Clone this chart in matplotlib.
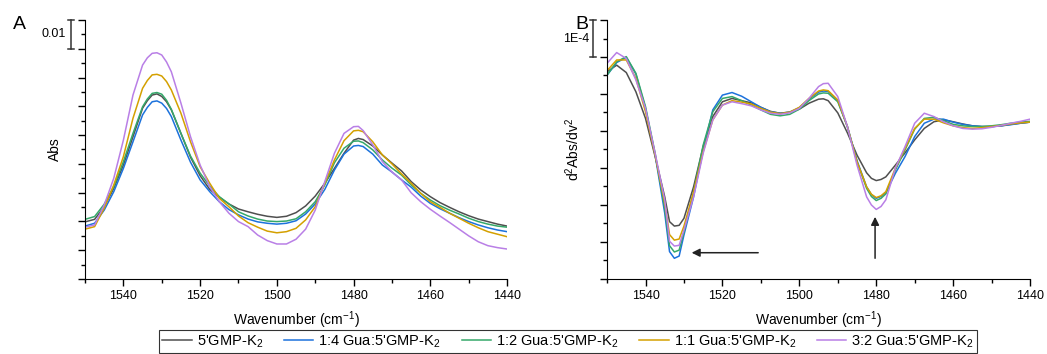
import numpy as np
import matplotlib
matplotlib.use("Agg")
import matplotlib.pyplot as plt
from matplotlib.transforms import blended_transform_factory
from matplotlib.lines import Line2D

plt.rcParams['font.family'] = ['Liberation Sans', 'DejaVu Sans']
plt.rcParams['mathtext.fontset'] = 'custom'
plt.rcParams['mathtext.rm'] = 'Liberation Sans'
plt.rcParams['mathtext.it'] = 'Liberation Sans:italic'

labels = ["5'GMP-K$_2$", "1:4 Gua:5'GMP-K$_2$", "1:2 Gua:5'GMP-K$_2$",
          "1:1 Gua:5'GMP-K$_2$", "3:2 Gua:5'GMP-K$_2$"]
colors = ['#4f4f4f', '#1c72dc', '#35a86a', '#d4a000', '#b97fe6']

# panel A: wavenumbers (cm-1) and absorbance (mAbs, offset baseline)
wn_a = [1550, 1547.5, 1545, 1542.5, 1540, 1537.5, 1535, 1533.75, 1532.5, 1531.25,
        1530, 1528.75, 1527.5, 1525, 1522.5, 1520, 1517.5, 1515, 1512.5, 1510,
        1507.5, 1505, 1502.5, 1500, 1497.5, 1495, 1492.5, 1490, 1487.5, 1485,
        1482.5, 1480, 1478.75, 1477.5, 1475, 1472.5, 1470, 1467.5, 1465, 1462.5,
        1460, 1457.5, 1455, 1452.5, 1450, 1447.5, 1445, 1442.5, 1440]
abs_gmp = [20.4, 21.3, 25.8, 32.4, 40.7, 50.8, 61.0, 63.7, 65.7, 66.1,
           65.2, 63.3, 60.4, 52.0, 43.5, 36.9, 32.0, 29.2, 26.8, 25.0,
           24.0, 23.1, 22.4, 22.0, 22.4, 23.7, 26.1, 29.6, 34.2, 39.5,
           44.9, 49.6, 50.2, 49.8, 47.5, 44.3, 41.4, 38.6, 34.8, 31.8,
           29.4, 27.3, 25.6, 24.0, 22.6, 21.4, 20.5, 19.6, 18.9]
abs_14 = [18.9, 19.9, 24.6, 31.2, 39.5, 49.0, 58.6, 61.3, 63.3, 63.6,
          62.8, 60.9, 58.0, 49.6, 41.7, 35.4, 31.2, 27.6, 24.8, 22.9,
          21.4, 20.4, 19.9, 19.6, 19.9, 20.8, 23.2, 26.8, 32.0, 38.9,
          44.6, 47.5, 47.7, 47.3, 44.6, 40.7, 38.2, 35.4, 32.8, 29.6,
          27.0, 25.1, 23.5, 21.9, 20.5, 19.3, 18.3, 17.5, 16.9]
abs_12 = [21.3, 22.3, 26.7, 33.0, 41.9, 52.0, 61.5, 64.3, 66.3, 66.6,
          66.0, 63.8, 60.6, 52.0, 43.9, 37.8, 33.2, 29.4, 26.8, 24.0,
          22.5, 21.4, 20.7, 20.5, 20.7, 21.5, 24.0, 27.6, 33.6, 41.5,
          46.7, 49.2, 49.3, 48.7, 46.1, 42.5, 39.6, 37.1, 33.6, 30.6,
          28.2, 26.2, 24.6, 23.2, 21.7, 20.5, 19.6, 18.9, 18.5]
abs_11 = [17.8, 18.7, 25.3, 33.6, 43.7, 57.4, 68.1, 70.9, 72.9, 73.1,
          72.5, 70.5, 67.5, 59.2, 49.0, 40.1, 34.2, 28.8, 25.8, 22.5,
          20.1, 18.5, 17.1, 16.5, 16.9, 18.1, 21.1, 25.8, 34.2, 42.5,
          49.4, 52.9, 53.1, 52.6, 49.0, 44.3, 41.1, 37.5, 34.2, 30.6,
          27.6, 25.6, 23.5, 21.7, 19.9, 18.3, 16.9, 16.0, 15.1]
abs_32 = [18.5, 19.3, 26.4, 36.0, 49.6, 65.7, 76.4, 79.0, 80.6, 80.8,
          80.0, 77.5, 74.0, 62.8, 50.8, 40.7, 33.0, 27.6, 23.5, 20.5,
          18.7, 15.7, 13.7, 12.5, 12.5, 14.2, 17.8, 24.6, 34.8, 44.9,
          52.0, 54.4, 54.5, 53.0, 47.9, 41.9, 38.2, 35.4, 30.8, 27.6,
          24.9, 22.5, 20.2, 17.8, 15.4, 13.3, 11.9, 11.2, 10.7]

# panel B: wavenumbers (cm-1) and second derivative (units of 1e-5)
wn_b = [1550, 1547.5, 1545, 1542.5, 1540, 1537.5, 1535, 1533.75, 1532.5, 1531.25,
        1530, 1527.5, 1525, 1522.5, 1520, 1517.5, 1515, 1512.5, 1510, 1507.5,
        1505, 1502.5, 1500, 1497.5, 1495, 1493.75, 1492.5, 1490, 1487.5, 1485,
        1482.5, 1481.25, 1480, 1478.75, 1477.5, 1475, 1472.5, 1470, 1467.5, 1465,
        1462.5, 1460, 1457.5, 1455, 1452.5, 1450, 1447.5, 1445, 1442.5, 1440]
d2_gmp = [16.0, 17.8, 15.8, 10.6, 3.4, -6.9, -17.8, -24.5, -25.7, -25.5,
          -23.6, -15.1, -4.2, 3.9, 7.9, 8.8, 8.2, 7.6, 6.4, 5.3,
          4.8, 5.1, 5.9, 7.5, 8.6, 8.7, 8.2, 4.9, -0.5, -6.5,
          -11.3, -12.8, -13.4, -13.1, -12.4, -9.2, -5.9, -2.4, 0.7, 2.5,
          3.0, 2.5, 1.9, 1.4, 1.2, 1.2, 1.4, 1.8, 2.1, 2.4]
d2_14 = [15.1, 18.5, 19.9, 15.4, 6.1, -6.5, -22.2, -32.6, -34.4, -33.8,
         -28.1, -17.8, -5.1, 5.7, 9.7, 10.4, 9.4, 7.9, 6.4, 5.2,
         4.8, 5.1, 6.3, 8.6, 10.5, 10.8, 10.7, 8.2, 1.2, -8.0,
         -15.1, -17.2, -18.2, -17.7, -16.7, -11.4, -6.9, -1.5, 2.1, 3.2,
         3.2, 2.4, 1.8, 1.4, 1.2, 1.2, 1.4, 1.7, 2.1, 2.4]
d2_12 = [15.1, 18.7, 20.1, 15.6, 6.6, -6.0, -20.8, -31.0, -32.7, -32.2,
         -27.3, -16.5, -3.8, 5.2, 8.8, 9.3, 8.2, 7.0, 5.7, 4.5,
         4.1, 4.5, 5.9, 8.2, 10.0, 10.3, 10.2, 7.9, 1.2, -8.3,
         -15.5, -17.7, -18.8, -18.2, -17.0, -10.5, -5.1, 0.5, 3.4, 3.7,
         2.8, 1.8, 1.4, 1.2, 1.2, 1.4, 1.7, 2.1, 2.4, 2.6]
d2_11 = [16.3, 19.2, 19.2, 14.2, 5.2, -6.5, -19.5, -28.0, -29.5, -29.2,
         -25.7, -16.5, -5.6, 3.0, 7.0, 8.2, 7.8, 7.3, 6.1, 5.1,
         4.7, 5.1, 6.4, 8.8, 10.8, 11.1, 10.9, 8.4, 1.2, -8.3,
         -15.1, -17.1, -18.0, -17.5, -16.4, -10.0, -4.7, 0.7, 3.2, 3.2,
         2.2, 1.4, 0.9, 0.7, 0.9, 1.2, 1.5, 1.9, 2.2, 2.4]
d2_32 = [18.3, 21.2, 19.6, 13.8, 6.1, -6.0, -18.6, -29.8, -31.1, -30.9,
         -26.8, -17.8, -6.0, 3.0, 7.0, 7.9, 7.4, 6.8, 5.7, 4.8,
         4.5, 4.9, 6.1, 8.8, 12.0, 12.8, 12.9, 9.3, 1.2, -9.2,
         -17.8, -20.0, -21.2, -20.4, -18.6, -10.0, -4.2, 2.1, 4.8, 3.9,
         2.5, 1.4, 0.7, 0.5, 0.6, 1.0, 1.5, 2.1, 2.6, 3.2]

# arrows in panel B: (tip, tail) in (wavenumber, 1e-5 units)
arrow_h = [(1528.0, -32.9), (1510.7, -32.9)]
arrow_v = [(1480.3, -23.2), (1480.3, -34.4)]

series_a = [abs_gmp, abs_14, abs_12, abs_11, abs_32]
series_b = [d2_gmp, d2_14, d2_12, d2_11, d2_32]

fig = plt.figure(figsize=(10.47, 3.54), dpi=100)
axA = fig.add_axes([0.0812, 0.2119, 0.4031, 0.7316])
axB = fig.add_axes([0.5798, 0.2119, 0.4040, 0.7316])

for ys, c in zip(series_a, colors):
    axA.plot(wn_a, np.array(ys) / 1000, color=c, lw=1.1)
for ys, c in zip(series_b, colors):
    axB.plot(wn_b, np.array(ys) * 1e-5, color=c, lw=1.1)

ytopA = 0.0925
axA.set_ylim(0, ytopA)
stepA = ytopA / 9
axA.set_yticks(ytopA - stepA * np.arange(10))
axA.set_yticks(ytopA - stepA * (np.arange(9) + 0.5), minor=True)
axB.set_ylim(-40e-5, 30e-5)
axB.set_yticks(np.arange(-40, 31, 10) * 1e-5)
axB.set_yticks(np.arange(-35, 30, 10) * 1e-5, minor=True)

for ax in (axA, axB):
    ax.set_xlim(1550, 1440)
    ax.set_xticks([1540, 1520, 1500, 1480, 1460, 1440])
    ax.set_xticks([1550, 1530, 1510, 1490, 1470, 1450], minor=True)
    ax.set_yticklabels([])
    ax.spines['top'].set_visible(False)
    ax.spines['right'].set_visible(False)
    ax.tick_params(which='major', direction='out', length=5, width=1, labelsize=9, pad=3)
    ax.tick_params(which='minor', direction='out', length=3, width=1)
    ax.set_xlabel('Wavenumber (cm$^{-1}$)', fontsize=10, labelpad=5)

axA.set_ylabel('Abs', fontsize=10)
axA.yaxis.set_label_coords(-0.055, 0.5)
axB.set_ylabel('d$^2$Abs/dv$^2$', fontsize=10)
axB.yaxis.set_label_coords(-0.06, 0.5)

# scale bars
def scale_bar(ax, x, y0, y1, text, tx):
    tr = blended_transform_factory(ax.transAxes, ax.transData)
    kw = dict(color='#333333', lw=1.1, transform=tr, clip_on=False)
    ax.plot([x, x], [y0, y1], **kw)
    ax.plot([x - 0.007, x + 0.007], [y0, y0], **kw)
    ax.plot([x - 0.007, x + 0.007], [y1, y1], **kw)
    ax.text(tx, (y0 + y1) / 2, text, transform=tr, ha='right', va='center', fontsize=9)

scale_bar(axA, -0.033, ytopA, ytopA - stepA, '0.01', -0.045)
scale_bar(axB, -0.033, 30e-5, 20e-5, '1E-4', -0.043)

for (tip, tail) in (arrow_h, arrow_v):
    axB.annotate('', xy=(tip[0], tip[1] * 1e-5), xytext=(tail[0], tail[1] * 1e-5),
                 arrowprops=dict(arrowstyle='-|>', color='#222222', lw=1.1,
                                 mutation_scale=12, shrinkA=0, shrinkB=0))

fig.text(0.019, 0.918, 'A', fontsize=14, ha='center', va='baseline')
fig.text(0.556, 0.918, 'B', fontsize=14, ha='center', va='baseline')

handles = [Line2D([], [], color=c, lw=1.1) for c in colors]
leg = fig.legend(handles, labels, loc='lower center', bbox_to_anchor=(0.5425, 0.0),
                 ncol=5, fontsize=10.5, frameon=True, fancybox=False, edgecolor='black',
                 handlelength=2.0, handletextpad=0.35, columnspacing=1.45,
                 borderpad=0.2, borderaxespad=0.1)
leg.get_frame().set_linewidth(0.8)

fig.savefig('out.png', dpi=100)
